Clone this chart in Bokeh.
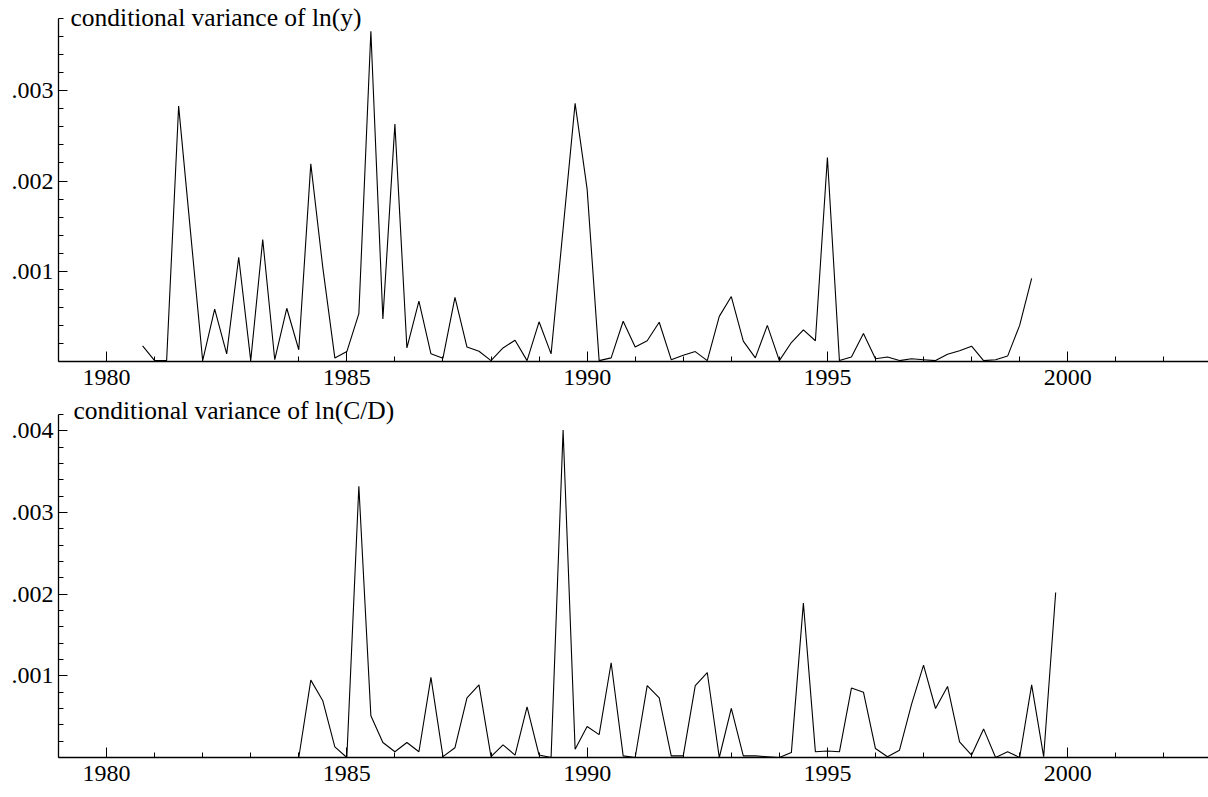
from bokeh.plotting import figure
from bokeh.models import FixedTicker, Label, CustomJSTickFormatter, Range1d
from bokeh.layouts import column
from bokeh.embed import file_html
from bokeh.resources import INLINE

# ---------------- data ----------------
TITLE_TOP = "conditional variance of ln(y)"
TITLE_BOTTOM = "conditional variance of ln(C/D)"

# quarterly series, top panel starts 1980 Q4 (1980.75)
START_TOP = 1980.75
VAR_LN_Y = [
    0.000174,                                   # 1980
    0.00001, 0.00001, 0.00283, 0.00142,         # 1981
    0.00001, 0.00058, 0.000085, 0.001155,       # 1982
    0.00001, 0.00135, 0.00002, 0.00059,         # 1983
    0.00013, 0.00219, 0.00104, 0.00004,         # 1984
    0.00011, 0.00053, 0.00366, 0.00047,         # 1985
    0.00263, 0.00015, 0.00067, 0.000085,        # 1986
    0.000037, 0.00071, 0.00016, 0.000114,       # 1987
    0.00001, 0.00015, 0.000236, 0.00001,        # 1988
    0.00044, 0.000085, 0.00147, 0.00286,        # 1989
    0.00191, 0.00001, 0.00004, 0.000446,        # 1990
    0.00016, 0.00023, 0.000435, 0.00002,        # 1991
    0.00007, 0.00011, 0.00001, 0.0005,          # 1992
    0.00072, 0.000225, 0.00004, 0.0004,         # 1993
    0.00001, 0.00021, 0.00035, 0.00023,         # 1994
    0.00226, 0.00001, 0.00005, 0.00031,         # 1995
    0.00003, 0.00005, 0.00001, 0.00003,         # 1996
    0.00002, 0.00001, 0.00008, 0.00012,         # 1997
    0.00017, 0.00001, 0.00002, 0.00006,         # 1998
    0.0004, 0.00092,                            # 1999
]

# bottom panel starts 1984 Q1 (1984.0)
START_BOTTOM = 1984.0
VAR_LN_CD = [
    0.0, 0.000947, 0.000694, 0.00013,           # 1984
    0.0, 0.00332, 0.00051, 0.000184,            # 1985
    0.00007, 0.000184, 0.00007, 0.00098,        # 1986
    0.00001, 0.00012, 0.00073, 0.00089,         # 1987
    0.00001, 0.000155, 0.00003, 0.00062,        # 1988
    0.00003, 0.0, 0.00401, 0.0001,              # 1989
    0.00038, 0.00028, 0.00116, 0.00002,         # 1990
    0.0, 0.00088, 0.00073, 0.00002,             # 1991
    0.00002, 0.00088, 0.00104, 0.0,             # 1992
    0.0006, 0.00002, 0.00002, 0.00001,          # 1993
    0.0, 0.00006, 0.00189, 0.00007,             # 1994
    0.00008, 0.00007, 0.00085, 0.0008,          # 1995
    0.00011, 0.00001, 0.00009, 0.00065,         # 1996
    0.00113, 0.0006, 0.00087, 0.00019,          # 1997
    0.00003, 0.00035, 0.0, 0.00007,             # 1998
    0.0, 0.00089, 0.00001, 0.00202,             # 1999
]

X_MAJOR_TICKS = [1980, 1985, 1990, 1995, 2000]
X_MINOR_TICKS = list(range(1979, 2003))

Y_TICKS_TOP = [0.001, 0.002, 0.003]
Y_LABELS_TOP = [".001", ".002", ".003"]
Y_TICKS_BOTTOM = [0.001, 0.002, 0.003, 0.004]
Y_LABELS_BOTTOM = [".001", ".002", ".003", ".004"]

X_RANGE = (1979.0, 2002.93)
Y_AXIS_MAX_TOP = 0.0038      # end of the drawn y axis
Y_AXIS_MAX_BOTTOM = 0.0042
Y_VIEW_MAX_TOP = 0.0040      # visible area (room for the panel title)
Y_VIEW_MAX_BOTTOM = 0.004419

FONT = "Liberation Serif"


def quarters(start, n):
    return [start + 0.25 * i for i in range(n)]


def make_panel(xs, ys, axis_max, view_max, yticks, ylabels, title, title_x,
               title_y, height, border_bottom):
    p = figure(width=1208, height=height, output_backend="svg",
               toolbar_location=None, tools="",
               x_range=Range1d(*X_RANGE), y_range=Range1d(0, view_max),
               min_border_left=58, min_border_right=0,
               min_border_top=0, min_border_bottom=border_bottom)
    p.outline_line_color = None
    p.xgrid.visible = False
    p.ygrid.visible = False
    p.background_fill_color = "white"
    p.border_fill_color = "white"

    p.line(xs, ys, line_color="black", line_width=1.1)

    # x axis
    xa = p.xaxis[0]
    xa.ticker = FixedTicker(ticks=X_MAJOR_TICKS, minor_ticks=X_MINOR_TICKS)
    xa.major_tick_in = 10
    xa.major_tick_out = 0
    xa.minor_tick_in = 5
    xa.minor_tick_out = 0
    xa.axis_line_color = "black"
    xa.axis_line_width = 1.3
    xa.major_tick_line_color = "black"
    xa.minor_tick_line_color = "black"
    xa.major_label_text_font = FONT
    xa.major_label_text_font_size = "24px"
    xa.major_label_text_color = "black"
    xa.major_label_standoff = 8

    # y axis (drawn only up to axis_max)
    ya = p.yaxis[0]
    ya.bounds = (0, axis_max)
    minor = [round(0.0002 * i, 6) for i in range(1, int(round(axis_max / 0.0002)) + 1)]
    ya.ticker = FixedTicker(ticks=yticks, minor_ticks=minor)
    ya.formatter = CustomJSTickFormatter(
        args=dict(tvals=yticks, tlabels=ylabels),
        code="""
        for (let i = 0; i < tvals.length; i++) {
            if (Math.abs(tvals[i] - tick) < 1e-9) return tlabels[i];
        }
        return '';
        """)
    ya.major_tick_in = 9
    ya.major_tick_out = 0
    ya.minor_tick_in = 5
    ya.minor_tick_out = 0
    ya.axis_line_color = "black"
    ya.axis_line_width = 1.3
    ya.major_tick_line_color = "black"
    ya.minor_tick_line_color = "black"
    ya.major_label_text_font = FONT
    ya.major_label_text_font_size = "24px"
    ya.major_label_text_color = "black"
    ya.major_label_standoff = 5

    p.add_layout(Label(x=title_x, y=title_y, y_offset=10, text=title,
                       text_font=FONT, text_font_size="25.5px",
                       text_color="black", text_align="left",
                       text_baseline="alphabetic"))
    return p


p1 = make_panel(quarters(START_TOP, len(VAR_LN_Y)), VAR_LN_Y,
                Y_AXIS_MAX_TOP, Y_VIEW_MAX_TOP,
                Y_TICKS_TOP, Y_LABELS_TOP, TITLE_TOP, 1979.25, 0.0037,
                height=396, border_bottom=35)
p2 = make_panel(quarters(START_BOTTOM, len(VAR_LN_CD)), VAR_LN_CD,
                Y_AXIS_MAX_BOTTOM, Y_VIEW_MAX_BOTTOM,
                Y_TICKS_BOTTOM, Y_LABELS_BOTTOM, TITLE_BOTTOM, 1979.31, 0.004125,
                height=396, border_bottom=35)

layout = column(p1, p2, spacing=0)
open("out.html", "w").write(file_html(layout, INLINE))
